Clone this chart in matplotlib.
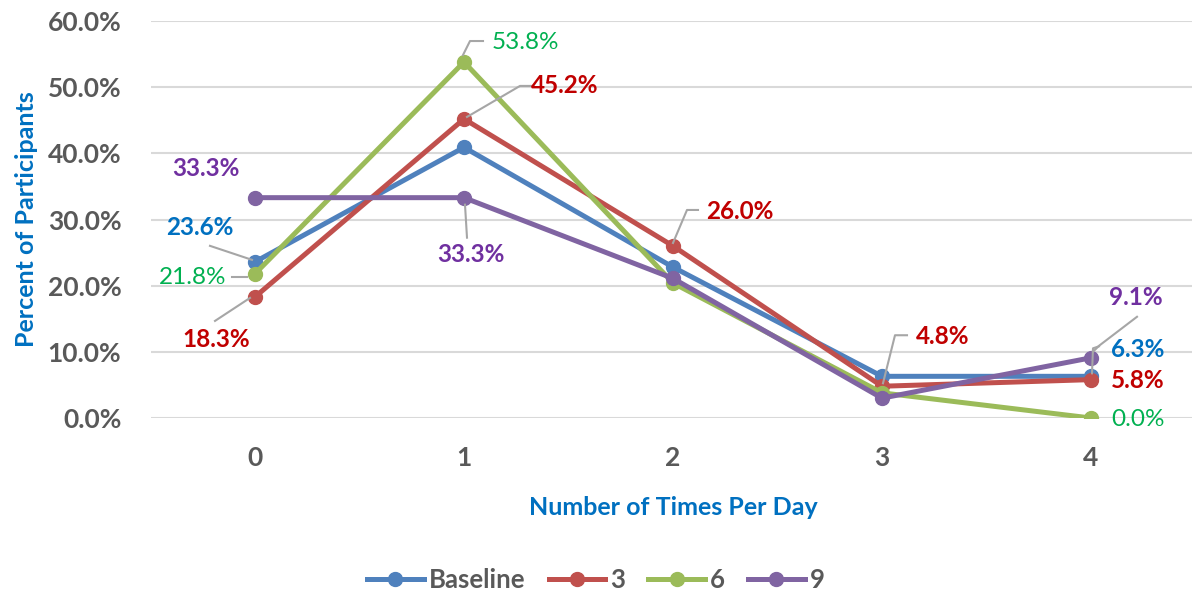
import numpy as np
import matplotlib.pyplot as plt
from matplotlib.lines import Line2D

plt.rcParams['font.family'] = ['Lato', 'DejaVu Sans']

times = [0, 1, 2, 3, 4]
baseline = [23.6, 40.9, 22.8, 6.3, 6.3]
month3 = [18.3, 45.2, 26.0, 4.8, 5.8]
month6 = [21.8, 53.8, 20.4, 3.8, 0.0]
month9 = [33.3, 33.3, 21.1, 3.0, 9.1]

series = [
    ('Baseline', baseline, '#4F81BD', '#0070C0'),
    ('3', month3, '#C0504D', '#C00000'),
    ('6', month6, '#9BBB59', '#00B050'),
    ('9', month9, '#8064A2', '#7030A0'),
]

# (series index, point index, text offset px, bold, leader offsets px)
labels = [
    (0, 0, (-55, 34), True, [(-3, 2), (-45, 16)]),
    (2, 0, (-62, -4), False, [(-8, -3), (-23, -3)]),
    (1, 0, (-39, -43), True, [(-5, -1), (-40, -24)]),
    (3, 0, (-49, 29), True, None),
    (2, 1, (61, 20), False, [(-1, 7), (6, 21), (19, 21)]),
    (1, 1, (101, 33), True, [(3, 2), (56, 33), (68, 33)]),
    (3, 1, (7, -57), True, [(1, -7), (3, -40)]),
    (1, 2, (67, 34), True, [(0, 3), (14, 36), (25, 36)]),
    (1, 3, (61, 50), True, [(1, 3), (13, 51), (25, 51)]),
    (3, 4, (45, 60), True, [(2, 6), (8, 12), (46, 41)]),
    (0, 4, (47, 27), True, [(1, 3), (2, 28), (8, 30)]),
    (1, 4, (47, -1), True, None),
    (2, 4, (47, -1), False, None),
]

fig = plt.figure(figsize=(11.92, 5.94), dpi=100)
ax = fig.add_axes([150.5 / 1192, 176 / 594, 1045 / 1192, 397 / 594])
ax.set_xlim(-0.5, 4.5)
ax.set_ylim(0, 60)

for name, vals, col, _ in series:
    ax.plot(times, vals, color=col, lw=3.6, marker='o', ms=10,
            solid_capstyle='round', label=name, zorder=3)

ax.set_yticks(np.arange(0, 61, 10))
ax.set_yticklabels([f'{v:.1f}%' for v in np.arange(0, 61, 10)])
ax.set_xticks(times)
ax.grid(axis='y', color='#D9D9D9', lw=1.5)
ax.set_axisbelow(True)
for s in ax.spines.values():
    s.set_visible(False)
ax.tick_params(length=0, labelsize=19, labelcolor='#595959')
ax.tick_params(axis='y', pad=21)
ax.tick_params(axis='x', pad=20)
for t in ax.get_xticklabels() + ax.get_yticklabels():
    t.set_fontweight('bold')

ax.set_ylabel('Percent of Participants', color='#0070C0', fontsize=18,
              fontweight='bold')
ax.set_xlabel('Number of Times Per Day', color='#0070C0', fontsize=18,
              fontweight='bold', labelpad=19)
ax.yaxis.set_label_coords(-0.108, 0.5)

fig.canvas.draw()
for si, pi, off, bold, lead in labels:
    vals, tcol = series[si][1], series[si][3]
    x, y = times[pi], vals[pi]
    ax.annotate(f'{y:.1f}%', (x, y), xytext=off, textcoords='offset pixels',
                ha='center', va='center', color=tcol, fontsize=17.5,
                fontweight='bold' if bold else 'normal', zorder=5)
    if lead:
        px, py = ax.transData.transform((x, y))
        xs = [px + dx for dx, dy in lead]
        ys = [py + dy for dx, dy in lead]
        ax.add_line(Line2D(xs, ys, transform=None, color='#A6A6A6', lw=1.5,
                           zorder=4))

handles = [Line2D([], [], color=c, lw=3.6, marker='o', ms=10)
           for _, _, c, _ in series]
leg = fig.legend(handles, [s[0] for s in series], loc='center',
                 bbox_to_anchor=(0.5, 14 / 594), ncol=4, frameon=False,
                 fontsize=18.5, handlelength=2.2, handletextpad=0.2,
                 columnspacing=0.9)
for t in leg.get_texts():
    t.set_color('#595959')
    t.set_fontweight('bold')

fig.savefig('out.png', dpi=100)
